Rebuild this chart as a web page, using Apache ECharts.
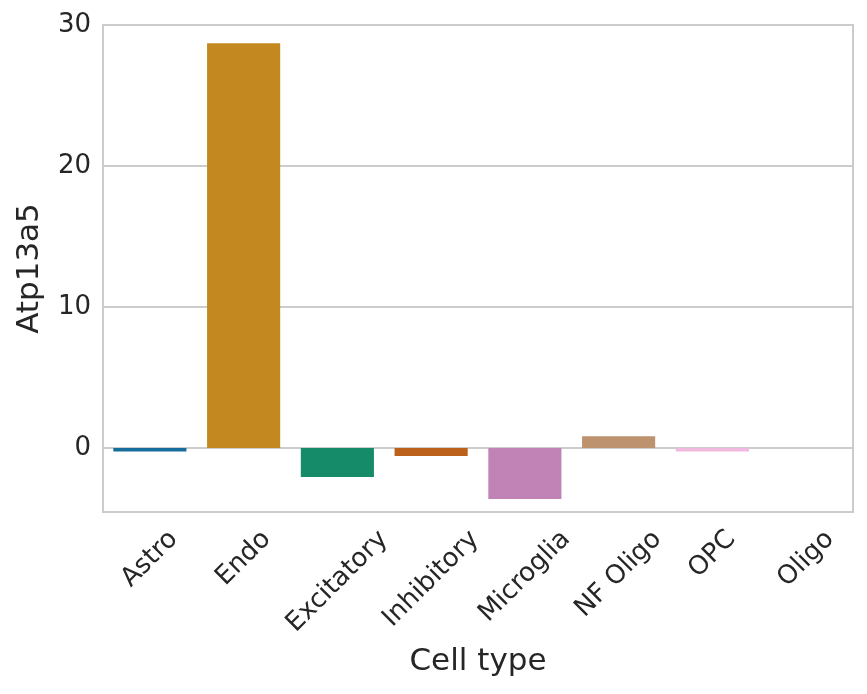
<!DOCTYPE html>
<html>
<head>
<meta charset="utf-8">
<script src="https://cdn.jsdelivr.net/npm/echarts@6/dist/echarts.min.js"></script>
<style>
  html, body { margin: 0; padding: 0; background: #ffffff; }
  #chart { width: 867px; height: 694px; }
</style>
</head>
<body>
<div id="chart"></div>
<script>
// ---- data ----
const categories = ['Astro', 'Endo', 'Excitatory', 'Inhibitory', 'Microglia', 'NF Oligo', 'OPC', 'Oligo'];
const values = [-0.25, 28.7, -2.06, -0.57, -3.62, 0.83, -0.25, 0.0];
const barColors = ['#176d9c', '#c48820', '#168b6a', '#bb611b', '#c182b6', '#bd926e', '#f1b8e0', '#949494'];
const yName = 'Atp13a5';
const xName = 'Cell type';
const yMin = -4.54;
const yMax = 30;

// ---- styling ----
const FONT = '"DejaVu Sans", "Liberation Sans", sans-serif';
const TEXT = '#262626';
const TICK_FS = 26;
const NAME_FS = 31;

// measure label lengths so rotated labels are centred under their tick (matplotlib style)
const cv = document.createElement('canvas');
const ctx = cv.getContext('2d');
ctx.font = TICK_FS + 'px ' + FONT;
const rich = {};
categories.forEach(function (c, i) {
  const L = ctx.measureText(c).width;
  const p = (L + TICK_FS) / 2;
  rich['l' + i] = {
    fontSize: TICK_FS, fontFamily: FONT, color: TEXT,
    padding: [p, p, 0, 0]
  };
});

const chart = echarts.init(document.getElementById('chart'), null, { renderer: 'canvas' });
chart.setOption({
  animation: false,
  backgroundColor: '#ffffff',
  grid: {
    left: 103, right: 14, top: 25, bottom: 182,
    show: true, borderColor: '#cccccc', borderWidth: 2, backgroundColor: 'transparent'
  },
  xAxis: {
    type: 'category',
    data: categories,
    name: xName,
    nameLocation: 'middle',
    nameGap: 134,
    nameTextStyle: { fontSize: NAME_FS, fontFamily: FONT, color: TEXT },
    axisLine: { show: false },
    axisTick: { show: false },
    splitLine: { show: false },
    axisLabel: {
      interval: 0,
      rotate: 45,
      margin: 14,
      align: 'center',
      verticalAlign: 'middle',
      formatter: function (v, idx) { return '{l' + idx + '|' + v + '}'; },
      rich: rich,
      fontSize: TICK_FS, fontFamily: FONT, color: TEXT
    }
  },
  yAxis: {
    type: 'value',
    min: yMin,
    max: yMax,
    splitNumber: 4,
    name: yName,
    nameLocation: 'middle',
    nameGap: 58,
    nameTextStyle: { fontSize: NAME_FS, fontFamily: FONT, color: TEXT },
    axisLine: { show: false },
    axisTick: { show: false },
    axisLabel: {
      margin: 12, fontSize: TICK_FS, fontFamily: FONT, color: TEXT,
      padding: [4, 0, 0, 0],
      showMinLabel: false
    },
    splitLine: { show: true, lineStyle: { color: '#cccccc', width: 2 } }
  },
  series: [{
    type: 'bar',
    barWidth: '78%',
    data: values.map(function (v, i) {
      return { value: v, itemStyle: { color: barColors[i] } };
    })
  }]
});
</script>
</body>
</html>
